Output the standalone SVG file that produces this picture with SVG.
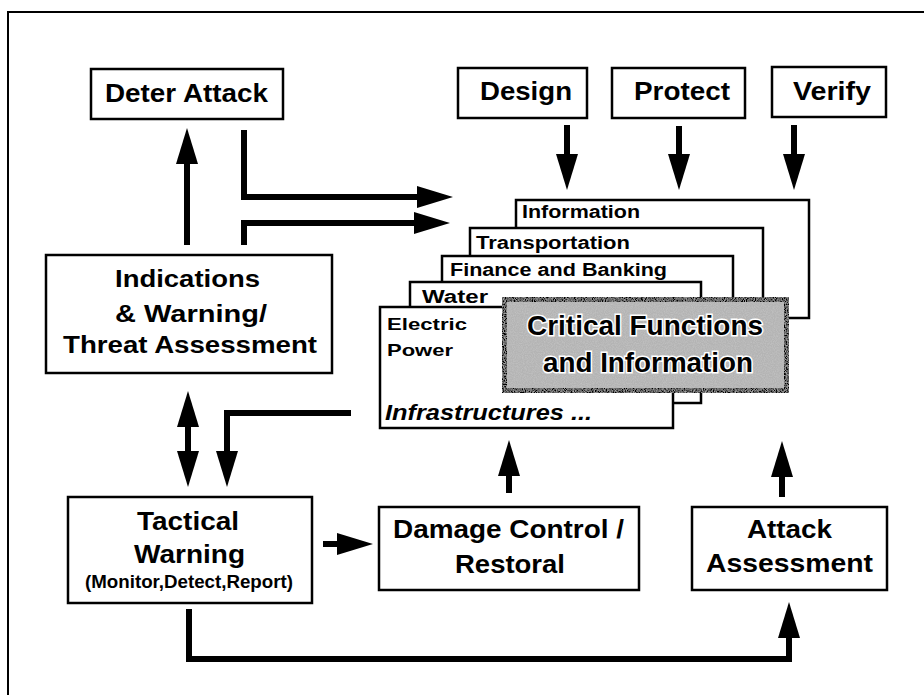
<svg xmlns="http://www.w3.org/2000/svg" width="924" height="695" viewBox="0 0 924 695">
<style>
.box{fill:#fff;stroke:#000;stroke-width:2.5}
.t{font-family:"Liberation Sans",Arial,Helvetica,sans-serif;font-weight:bold;fill:#000}
.c{text-anchor:middle}
.lbl{font-size:18px}
.big{font-size:25px}
.mid{font-size:23px}
.conn{fill:none;stroke:#000;stroke-width:6;stroke-linejoin:miter}
.crit{font-family:"Liberation Sans",Arial,sans-serif;font-weight:bold;font-size:28px;fill:#000;stroke:#fff;stroke-width:3;paint-order:stroke;text-anchor:middle}
</style>
<defs>
<marker id="ah" viewBox="0 -11 36 22" refX="0" refY="0" markerWidth="36" markerHeight="22" markerUnits="userSpaceOnUse" orient="auto-start-reverse" overflow="visible">
<path d="M0,-11 L36,0 L0,11 Z" fill="#000"/>
</marker>
<filter id="noise" x="0" y="0" width="100%" height="100%">
<feTurbulence type="fractalNoise" baseFrequency="0.9" numOctaves="2" seed="3" result="n"/>
<feColorMatrix in="n" type="matrix" values="0 0 0 0 0.55  0 0 0 0 0.55  0 0 0 0 0.55  0 0 0 1.6 -0.55" result="g"/>
<feComposite in="g" in2="SourceGraphic" operator="in" result="gi"/>
<feMerge><feMergeNode in="SourceGraphic"/><feMergeNode in="gi"/></feMerge>
</filter>
</defs>
<rect width="924" height="695" fill="#fff"/>
<path d="M8,695 V12 H924" fill="none" stroke="#000" stroke-width="2"/>

<g id="deter"><rect class="box" x="91" y="69" width="192" height="50"/><text class="t big c" x="186.5" y="102" textLength="163" lengthAdjust="spacingAndGlyphs">Deter Attack</text></g>
<g id="design"><rect class="box" x="458" y="68" width="129" height="50"/><text class="t big c" x="526" y="100" textLength="92" lengthAdjust="spacingAndGlyphs">Design</text></g>
<g id="protect"><rect class="box" x="612" y="68" width="133" height="50"/><text class="t big c" x="682" y="100" textLength="96" lengthAdjust="spacingAndGlyphs">Protect</text></g>
<g id="verify"><rect class="box" x="772" y="67" width="114" height="50"/><text class="t big c" x="832" y="100" textLength="78" lengthAdjust="spacingAndGlyphs">Verify</text></g>

<g id="indications"><rect class="box" x="46" y="255" width="286" height="118"/>
<text class="t mid c" x="187.5" y="287" textLength="145" lengthAdjust="spacingAndGlyphs">Indications</text>
<text class="t mid c" x="191" y="322" textLength="152" lengthAdjust="spacingAndGlyphs">&amp; Warning/</text>
<text class="t mid c" x="190" y="353" textLength="254" lengthAdjust="spacingAndGlyphs">Threat Assessment</text></g>

<g id="information"><rect class="box" x="516" y="200" width="293" height="118"/><text class="t lbl" x="522" y="218" textLength="118" lengthAdjust="spacingAndGlyphs">Information</text></g>
<g id="transportation"><rect class="box" x="470" y="228" width="293" height="100"/><text class="t lbl" x="476" y="249" textLength="154" lengthAdjust="spacingAndGlyphs">Transportation</text></g>
<g id="finance"><rect class="box" x="442" y="256" width="291" height="100"/><text class="t lbl" x="450" y="276" textLength="217" lengthAdjust="spacingAndGlyphs">Finance and Banking</text></g>
<g id="water"><rect class="box" x="410" y="282" width="291" height="121"/><text class="t lbl" x="422" y="303" textLength="66" lengthAdjust="spacingAndGlyphs">Water</text></g>
<g id="electric"><rect class="box" x="380" y="307" width="293" height="121"/>
<text class="t" font-size="17" x="387" y="330" textLength="80" lengthAdjust="spacingAndGlyphs">Electric</text>
<text class="t" font-size="17" x="387" y="356" textLength="66" lengthAdjust="spacingAndGlyphs">Power</text>
<text class="t" font-size="22" font-style="italic" x="385" y="420" textLength="207" lengthAdjust="spacingAndGlyphs">Infrastructures ...</text></g>
<g id="critical"><rect x="502.5" y="297.5" width="286" height="95" fill="#b4b4b4" stroke="#000" stroke-width="9" filter="url(#noise)"/>
<text class="crit" x="645" y="335" textLength="236" lengthAdjust="spacingAndGlyphs">Critical Functions</text>
<text class="crit" x="648" y="372" textLength="210" lengthAdjust="spacingAndGlyphs">and Information</text></g>

<g id="tactical"><rect class="box" x="68" y="497" width="244" height="106"/>
<text class="t big c" x="188" y="530" textLength="102" lengthAdjust="spacingAndGlyphs">Tactical</text>
<text class="t big c" x="189.5" y="563" textLength="111" lengthAdjust="spacingAndGlyphs">Warning</text>
<text class="t c" font-size="18" x="189" y="588" textLength="208" lengthAdjust="spacingAndGlyphs">(Monitor,Detect,Report)</text></g>
<g id="damage"><rect class="box" x="379" y="507" width="260" height="83"/>
<text class="t big c" x="508.5" y="538" textLength="231" lengthAdjust="spacingAndGlyphs">Damage Control /</text>
<text class="t big c" x="510" y="573" textLength="110" lengthAdjust="spacingAndGlyphs">Restoral</text></g>
<g id="attack"><rect class="box" x="692" y="507" width="195" height="83"/>
<text class="t big c" x="789.5" y="538" textLength="85" lengthAdjust="spacingAndGlyphs">Attack</text>
<text class="t big c" x="789.5" y="572" textLength="167" lengthAdjust="spacingAndGlyphs">Assessment</text></g>

<g id="connectors">
<path class="conn" d="M187,245 V164" marker-end="url(#ah)"/>
<path class="conn" d="M244,130 V197 H417" marker-end="url(#ah)"/>
<path class="conn" d="M244,245 V223 H414" marker-end="url(#ah)"/>
<path class="conn" d="M567,125 V154" marker-end="url(#ah)"/>
<path class="conn" d="M679,126 V154" marker-end="url(#ah)"/>
<path class="conn" d="M794,125 V154" marker-end="url(#ah)"/>
<path class="conn" d="M188,427 V451" marker-start="url(#ah)" marker-end="url(#ah)"/>
<path class="conn" d="M351,413 H227 V451" marker-end="url(#ah)"/>
<path class="conn" d="M323,544 H337" marker-end="url(#ah)"/>
<path class="conn" d="M189,609 V659 H789 V638" marker-end="url(#ah)"/>
<path class="conn" d="M509,493 V476" marker-end="url(#ah)"/>
<path class="conn" d="M782,497 V477" marker-end="url(#ah)"/>
</g>
</svg>
